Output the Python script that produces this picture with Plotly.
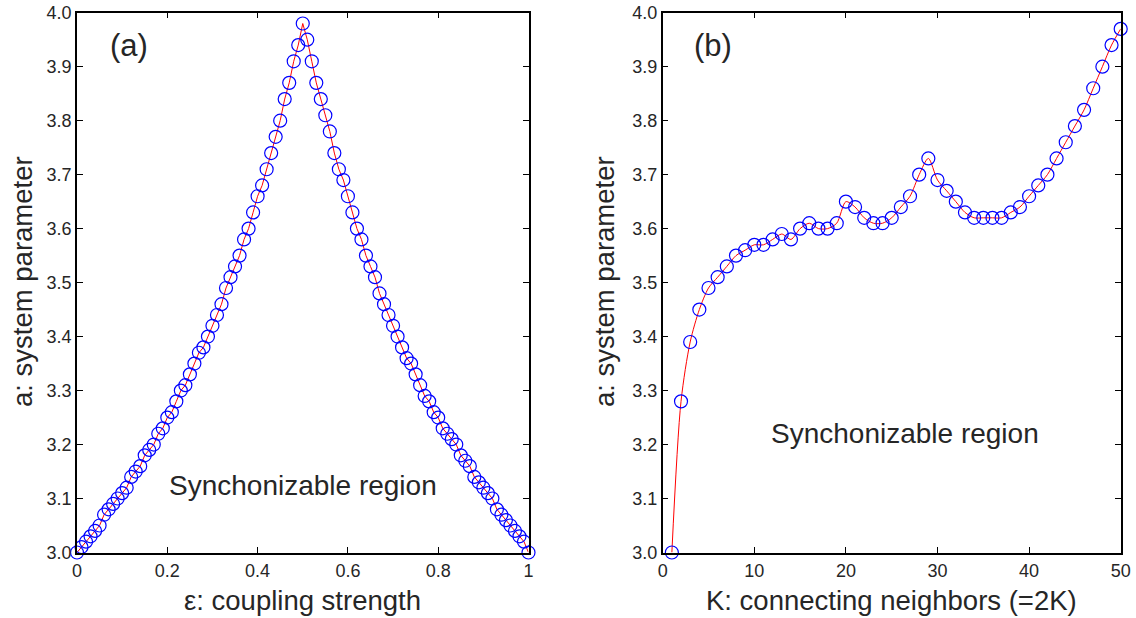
import plotly.graph_objects as go

# Panel (a): coupling strength vs system parameter
eps = [round(i * 0.01, 2) for i in range(101)]
a_eps = [3.00, 3.01, 3.02, 3.03, 3.04, 3.05, 3.07, 3.08, 3.09, 3.10,
         3.11, 3.12, 3.14, 3.15, 3.16, 3.18, 3.19, 3.20, 3.22, 3.23,
         3.25, 3.26, 3.28, 3.30, 3.31, 3.33, 3.35, 3.37, 3.38, 3.40,
         3.42, 3.44, 3.46, 3.49, 3.51, 3.53, 3.55, 3.58, 3.60, 3.63,
         3.66, 3.68, 3.71, 3.74, 3.77, 3.80, 3.84, 3.87, 3.91, 3.94,
         3.98,
         3.95, 3.91, 3.87, 3.84, 3.81, 3.78, 3.74, 3.71, 3.69, 3.66,
         3.63, 3.60, 3.58, 3.55, 3.53, 3.51, 3.48, 3.46, 3.44, 3.42,
         3.40, 3.38, 3.36, 3.35, 3.33, 3.31, 3.29, 3.28, 3.26, 3.25,
         3.23, 3.22, 3.21, 3.20, 3.18, 3.17, 3.16, 3.14, 3.13, 3.12,
         3.11, 3.10, 3.08, 3.07, 3.06, 3.05, 3.04, 3.03, 3.02, 3.00]

# Panel (b): connecting neighbors vs system parameter
K = list(range(1, 51))
a_K = [3.00, 3.28, 3.39, 3.45, 3.49, 3.51, 3.53, 3.55, 3.56, 3.57,
       3.57, 3.58, 3.59, 3.58, 3.60, 3.61, 3.60, 3.60, 3.61, 3.65,
       3.64, 3.62, 3.61, 3.61, 3.62, 3.64, 3.66, 3.70, 3.73, 3.69,
       3.67, 3.65, 3.63, 3.62, 3.62, 3.62, 3.62, 3.63, 3.64, 3.66,
       3.68, 3.70, 3.73, 3.76, 3.79, 3.82, 3.86, 3.90, 3.94, 3.97]

yticks = [3.0, 3.1, 3.2, 3.3, 3.4, 3.5, 3.6, 3.7, 3.8, 3.9, 4.0]
ytick_text = ["%.1f" % v for v in yticks]
xticks_a = [0, 0.2, 0.4, 0.6, 0.8, 1]
xticks_a_text = ["0", "0.2", "0.4", "0.6", "0.8", "1"]
xticks_b = [0, 10, 20, 30, 40, 50]

FONT = "Liberation Sans, Arial, Helvetica, sans-serif"
TXT = "#262626"
W, H = 1136, 618

fig = go.Figure()
mk = dict(symbol="circle-open", size=13, color="blue", line=dict(color="blue", width=1.2))

fig.add_trace(go.Scatter(x=eps, y=a_eps, mode="lines", line=dict(color="red", width=1),
                         xaxis="x", yaxis="y", cliponaxis=False, showlegend=False))
fig.add_trace(go.Scatter(x=eps, y=a_eps, mode="markers", marker=mk,
                         xaxis="x", yaxis="y", cliponaxis=False, showlegend=False))
fig.add_trace(go.Scatter(x=K, y=a_K, mode="lines",
                         line=dict(color="red", width=1, shape="spline", smoothing=0.8),
                         xaxis="x2", yaxis="y2", cliponaxis=False, showlegend=False))
fig.add_trace(go.Scatter(x=K, y=a_K, mode="markers", marker=mk,
                         xaxis="x2", yaxis="y2", cliponaxis=False, showlegend=False))

common_axis = dict(showgrid=False, zeroline=False, showline=True, linecolor="black",
                   linewidth=1.5, mirror="ticks", ticks="inside", ticklen=6,
                   tickcolor="black", tickwidth=1, automargin=False,
                   tickfont=dict(family=FONT, size=18, color=TXT))

ytop = 1 - 12.7 / H
ybot = 1 - 552.5 / H
ymid = 1 - 282 / H

def txt(text, x, y, size, xref="paper", yref="paper", angle=0):
    return dict(text=text, x=x, y=y, xref=xref, yref=yref, textangle=angle,
                xanchor="center", yanchor="middle", showarrow=False,
                font=dict(family=FONT, size=size, color=TXT))

fig.update_layout(
    width=W, height=H,
    margin=dict(l=0, r=0, t=0, b=0),
    paper_bgcolor="white", plot_bgcolor="white",
    xaxis=dict(common_axis, domain=[77 / W, 528.5 / W], range=[0, 1],
               tickvals=xticks_a, ticktext=xticks_a_text, anchor="y", ticklabelstandoff=1),
    yaxis=dict(common_axis, domain=[ybot, ytop], range=[3, 4],
               tickvals=yticks, ticktext=ytick_text, anchor="x"),
    xaxis2=dict(common_axis, domain=[662.7 / W, 1120.7 / W], range=[0, 50],
                tickvals=xticks_b, anchor="y2", ticklabelstandoff=1),
    yaxis2=dict(common_axis, domain=[ybot, ytop], range=[3, 4],
                tickvals=yticks, ticktext=ytick_text, anchor="x2"),
    annotations=[
        txt("ε: coupling strength", 302 / W, 1 - 600 / H, 27.5),
        txt("K: connecting neighbors (=2K)", 891 / W, 1 - 600 / H, 27.5),
        txt("a: system parameter", 22 / W, ymid, 27.5, angle=-90),
        txt("a: system parameter", 604 / W, ymid, 27.5, angle=-90),
        txt("(a)", 0.115, 3.94, 31, "x", "y"),
        txt("(b)", 5.5, 3.94, 31, "x2", "y2"),
        txt("Synchonizable region", 0.5, 3.125, 28, "x", "y"),
        txt("Synchonizable region", 26.4, 3.22, 28, "x2", "y2"),
    ],
)

fig.write_html("out.html")
